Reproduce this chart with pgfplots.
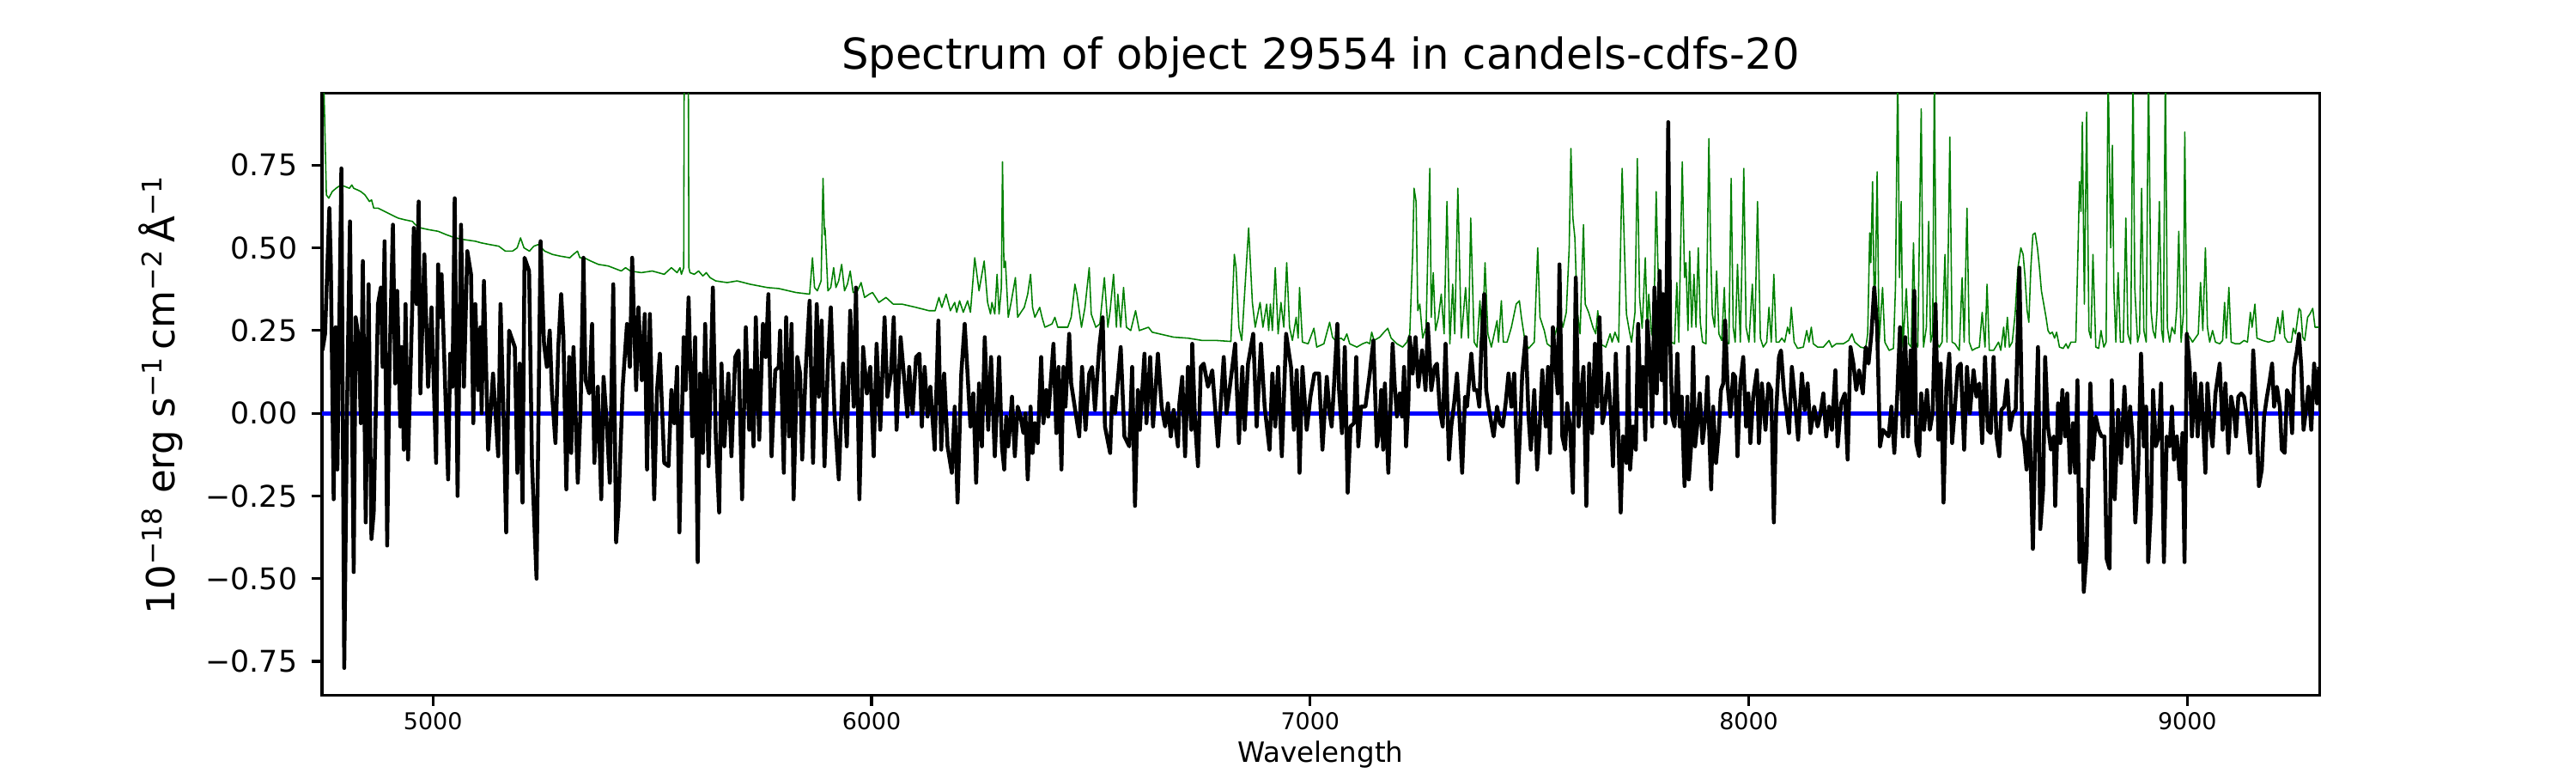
\documentclass[border=0pt]{standalone}
\usepackage{fontspec}
\setmainfont{DejaVu Sans}
\usepackage{pgfplots}
\pgfplotsset{compat=1.18}
\definecolor{mplgreen}{RGB}{0,128,0}
\definecolor{mplblue}{RGB}{0,0,255}
\begin{document}
\begin{tikzpicture}
\useasboundingbox (-108pt,-26pt) rectangle (756pt,233.2pt);
\begin{axis}[
  scale only axis, width=669.9pt, height=201.9pt,
  xmin=4747, xmax=9301, ymin=-0.853, ymax=0.967,
  axis line style={line width=0.9pt},
  tick pos=left, tick align=outside,
  major tick length=3.5pt,
  tick style={black, line width=0.9pt},
  xtick={5000,6000,7000,8000,9000},
  xticklabels={5000,6000,7000,8000,9000},
  ytick={-0.75,-0.5,-0.25,0,0.25,0.5,0.75},
  yticklabels={−0.75,−0.50,−0.25,0.00,0.25,0.50,0.75},
  xticklabel style={font=\fontsize{7.75}{9}\selectfont, anchor=base, inner sep=0pt, yshift=-8.0pt},
  yticklabel style={font=\fontsize{10}{12}\selectfont, anchor=east, inner sep=0pt, xshift=-4.6pt},
  title={Spectrum of object 29554 in candels-cdfs-20},
  title style={font=\fontsize{14.3}{16}\selectfont, at={([yshift=2pt]axis description cs:0.5,1)}, anchor=base, inner sep=0pt},
  xlabel={Wavelength},
  xlabel style={font=\fontsize{9.36}{11}\selectfont, at={([yshift=-22.3pt]axis description cs:0.5,0)}, anchor=base, inner sep=0pt},
  ylabel={10\textsuperscript{−18} erg s\textsuperscript{−1}\,cm\textsuperscript{−2}\,Å\textsuperscript{−1}},
  ylabel style={font=\fontsize{13}{15}\selectfont, at={([xshift=-54pt]axis description cs:0,0.5)}, anchor=center, inner sep=0pt},
]
% error / model spectrum (green)
\addplot[mplgreen, line width=0.45pt, line join=round, no markers] table {
x y
4747 1.3
4752 0.95
4757 0.66
4762.5 0.65
4770.3 0.67
4779 0.68
4789.9 0.69
4800 0.685
4809.5 0.68
4815 0.69
4819.3 0.68
4828 0.675
4835.6 0.67
4845 0.66
4855.2 0.64
4860 0.645
4865 0.62
4874.7 0.62
4890 0.61
4905 0.60
4920.4 0.59
4935 0.585
4953.0 0.58
4960 0.57
4972.6 0.56
4990 0.555
5011.8 0.55
5030 0.54
5050.9 0.53
5070 0.525
5096.6 0.52
5110 0.515
5129.2 0.51
5150 0.505
5165 0.49
5181.4 0.49
5192 0.50
5199.7 0.53
5207.5 0.50
5220 0.49
5230 0.505
5240.1 0.51
5255 0.49
5272.7 0.48
5290 0.475
5311.9 0.47
5320 0.48
5329.5 0.49
5335 0.47
5344.5 0.47
5360 0.46
5377.1 0.45
5400 0.445
5429.4 0.43
5439.1 0.44
5450 0.43
5475.0 0.425
5500 0.43
5527.3 0.42
5543.6 0.44
5556.7 0.425
5563.2 0.44
5566.5 0.42
5571.7 0.44
5573.5 1.4
5581.5 1.4
5583.5 0.44
5586.0 0.425
5595.8 0.42
5605.6 0.43
5615.4 0.415
5623.2 0.425
5631.7 0.41
5644.8 0.40
5670.9 0.395
5693.7 0.40
5723.1 0.39
5762.2 0.38
5788.3 0.377
5827.5 0.365
5858.8 0.36
5865.3 0.47
5870 0.38
5876.4 0.37
5885 0.40
5889.4 0.71
5892.7 0.54
5894.0 0.56
5900.5 0.37
5907 0.38
5913.6 0.44
5918.8 0.38
5925 0.40
5931.9 0.45
5938.4 0.37
5945 0.39
5951.4 0.43
5958.0 0.365
5968 0.37
5976.2 0.395
5984.1 0.35
5995 0.36
6002.3 0.365
6016.7 0.335
6033.0 0.35
6049.3 0.33
6068.9 0.33
6101.5 0.32
6130.9 0.31
6145 0.31
6153.7 0.35
6160.2 0.32
6170.0 0.36
6179.8 0.31
6189.6 0.335
6194.2 0.305
6200.7 0.34
6209.2 0.305
6219.0 0.34
6225.5 0.305
6235.3 0.47
6245.1 0.37
6256.8 0.46
6264.6 0.335
6271.2 0.30
6274.5 0.335
6281.0 0.30
6286.2 0.42
6290.8 0.30
6296.0 0.38
6298.6 0.76
6301.9 0.44
6305.2 0.46
6311.7 0.29
6318.2 0.335
6328.0 0.41
6333.2 0.29
6343.0 0.31
6348.2 0.32
6356.1 0.36
6362.6 0.42
6367.1 0.32
6372.4 0.29
6383.5 0.32
6388.7 0.29
6395.2 0.26
6411.5 0.27
6418.0 0.29
6424.6 0.26
6447.4 0.26
6455.2 0.29
6463.7 0.39
6468.3 0.36
6478.7 0.26
6486.6 0.32
6496.3 0.44
6500.9 0.30
6511.4 0.26
6520.5 0.27
6530.9 0.41
6538.8 0.26
6544.0 0.31
6551.8 0.42
6558.3 0.26
6561.6 0.36
6568.1 0.26
6574.6 0.38
6581.2 0.26
6591.0 0.25
6602.0 0.31
6610.5 0.25
6631.4 0.26
6639.9 0.245
6656.2 0.24
6688.8 0.23
6721.5 0.227
6754.1 0.22
6786.7 0.22
6819.3 0.217
6827.2 0.48
6831.1 0.44
6837.6 0.26
6844.1 0.22
6859.8 0.56
6868.3 0.335
6874.8 0.26
6885.9 0.335
6892.4 0.26
6900.9 0.33
6905.5 0.25
6909.4 0.33
6913.9 0.25
6920.5 0.44
6927.0 0.24
6933.5 0.335
6940 0.26
6946.6 0.455
6953.1 0.26
6959.6 0.22
6968.1 0.29
6972.7 0.227
6975.9 0.38
6982.5 0.215
6995.5 0.21
7008.6 0.257
7015.1 0.20
7031.4 0.21
7044.5 0.275
7051.0 0.23
7057.6 0.22
7070.6 0.227
7077.1 0.22
7083.7 0.24
7090.2 0.21
7106.5 0.20
7119.6 0.21
7129.3 0.215
7135.9 0.21
7140.4 0.245
7145.7 0.22
7158.7 0.23
7168.5 0.245
7177.0 0.257
7184.8 0.227
7197.9 0.21
7210.9 0.20
7220.7 0.215
7227.2 0.24
7233.7 0.48
7237.0 0.68
7241.6 0.64
7245.5 0.31
7250.1 0.33
7256.6 0.227
7264.4 0.26
7272.9 0.74
7276.2 0.29
7280.7 0.425
7285.9 0.25
7292.5 0.29
7299.0 0.36
7305.5 0.24
7312.0 0.64
7318.6 0.21
7325.1 0.39
7329.7 0.24
7336.8 0.68
7344.7 0.227
7354.5 0.38
7361.0 0.227
7366.2 0.59
7374.0 0.215
7380.6 0.20
7387.1 0.34
7392.3 0.215
7398.8 0.455
7405.3 0.24
7413.2 0.20
7426.2 0.28
7429.5 0.215
7436.0 0.34
7440.6 0.215
7449.1 0.215
7458.9 0.26
7469.9 0.33
7477.1 0.34
7481.7 0.29
7490.2 0.215
7498.0 0.196
7511.1 0.215
7518.9 0.50
7524.1 0.29
7533.9 0.25
7540.4 0.21
7550.2 0.20
7560.0 0.245
7569.8 0.29
7576.3 0.26
7584.1 0.305
7590.7 0.50
7594.6 0.80
7599.1 0.59
7603.7 0.53
7608.9 0.31
7615.5 0.24
7623.3 0.57
7627.2 0.33
7635.0 0.305
7644.8 0.26
7651.3 0.24
7655.9 0.31
7661.1 0.21
7674.2 0.20
7684.0 0.24
7688.5 0.215
7695.1 0.245
7703.5 0.215
7711.4 0.74
7716.6 0.50
7721.2 0.30
7727.7 0.25
7732.9 0.215
7740.7 0.305
7746.0 0.77
7751.2 0.35
7757.0 0.257
7764.2 0.47
7768.8 0.25
7772.0 0.36
7778.6 0.24
7783.2 0.227
7789.0 0.67
7792.9 0.45
7798.2 0.30
7804.7 0.23
7814.5 0.215
7823.0 0.215
7830.9 0.21
7836.1 0.395
7840.6 0.215
7848.5 0.76
7853.7 0.41
7857.0 0.455
7861.5 0.25
7865.4 0.49
7870.0 0.26
7875.2 0.42
7879.8 0.26
7885.0 0.50
7889.6 0.275
7894.8 0.215
7902.6 0.21
7909.2 0.83
7913.1 0.50
7917.0 0.30
7922.2 0.26
7926.8 0.43
7932.0 0.24
7938.5 0.22
7944.4 0.38
7948.3 0.215
7954.8 0.21
7960.0 0.71
7964.6 0.26
7969.2 0.215
7974.4 0.45
7980.9 0.215
7988.8 0.74
7994.0 0.26
8000.5 0.215
8008.3 0.39
8013.6 0.215
8020.1 0.64
8026.6 0.227
8033.1 0.20
8041.0 0.215
8046.2 0.32
8051.4 0.215
8057.3 0.42
8062.5 0.215
8069.0 0.215
8075.5 0.227
8082.1 0.215
8088.6 0.26
8093.2 0.24
8097.1 0.32
8103.6 0.215
8111.4 0.196
8124.5 0.20
8132.3 0.25
8137.5 0.215
8142.7 0.26
8147.3 0.21
8157.1 0.20
8170.2 0.20
8183.2 0.22
8189.7 0.20
8199.5 0.21
8215.8 0.21
8227.6 0.22
8235.4 0.24
8241.9 0.215
8255.0 0.20
8266.7 0.196
8271.3 0.24
8275.9 0.545
8278.5 0.455
8282.4 0.70
8286.3 0.32
8288.9 0.40
8292.8 0.73
8297.4 0.215
8305.2 0.38
8310.4 0.215
8320.2 0.19
8330.0 0.196
8334.6 0.38
8339.8 1.05
8343.7 0.41
8347.6 0.64
8351.5 0.20
8359.4 0.377
8364.6 0.21
8370.5 0.20
8375.7 0.515
8380.3 0.215
8385.5 0.20
8393.3 0.92
8398.5 0.20
8405.1 0.26
8410.3 0.58
8414.8 0.215
8419.4 0.24
8423.3 1.05
8427.9 0.215
8434.4 0.20
8440.9 0.215
8447.5 0.48
8452.0 0.215
8458.6 0.835
8463.8 0.215
8470.3 0.21
8480.1 0.19
8486.6 0.41
8491.2 0.215
8497.7 0.62
8502.9 0.215
8509.5 0.19
8517.3 0.196
8525.8 0.20
8532.3 0.305
8538.8 0.20
8543.4 0.39
8548.6 0.19
8558.4 0.19
8569.6 0.215
8574.8 0.19
8581.3 0.26
8584.6 0.20
8589.8 0.29
8594.4 0.20
8600.9 0.215
8607.4 0.30
8613.9 0.44
8620.5 0.50
8625.7 0.48
8630.2 0.41
8634.8 0.31
8638.7 0.275
8643.3 0.44
8647.9 0.54
8653.1 0.545
8658.3 0.50
8662.9 0.44
8667.4 0.37
8672.7 0.33
8677.9 0.29
8682.4 0.25
8687.0 0.24
8692.2 0.245
8697.4 0.227
8702.0 0.245
8708.5 0.20
8717.0 0.196
8723.5 0.21
8728.1 0.196
8734.6 0.215
8745.7 0.215
8750.9 0.50
8754.2 0.70
8757.5 0.61
8760.7 0.88
8765.3 0.33
8770.5 0.91
8775.7 0.25
8780.3 0.227
8784.9 0.48
8791.4 0.20
8797.9 0.196
8803.2 0.25
8809.7 0.20
8814.9 0.215
8819.5 1.05
8825.3 0.50
8829.2 0.81
8832.5 0.38
8837.1 0.215
8842.3 0.425
8847.5 0.215
8854.0 0.215
8859.9 0.59
8864.5 0.24
8871.0 0.21
8876.2 1.05
8880.2 0.38
8886.7 0.215
8891.2 0.24
8895.8 0.68
8901.0 0.25
8906.3 0.215
8911.5 1.05
8917.3 0.31
8921.9 0.25
8927.1 0.227
8931.0 0.31
8936.3 0.64
8941.5 0.25
8945.4 0.215
8950.0 1.05
8954.5 0.26
8959.8 0.215
8965.0 0.26
8971.5 0.24
8976.1 0.32
8980.6 0.55
8985.9 0.215
8991.1 0.30
8994.3 0.85
8998.9 0.24
9005.4 0.23
9012.0 0.215
9019.8 0.23
9025.0 0.24
9030.2 0.395
9035.4 0.25
9041.3 0.50
9045.9 0.26
9051.1 0.215
9057.6 0.25
9064.2 0.215
9073.9 0.21
9080.5 0.22
9085.0 0.335
9088.9 0.227
9094.8 0.38
9100.0 0.215
9109.8 0.21
9119.6 0.21
9129.4 0.22
9137.2 0.215
9143.8 0.305
9147.7 0.26
9154.2 0.33
9158.8 0.227
9171.8 0.22
9184.9 0.215
9197.9 0.22
9206.4 0.29
9211.0 0.24
9217.5 0.31
9222.1 0.23
9228.6 0.215
9237.1 0.215
9241.6 0.257
9246.9 0.24
9254.7 0.317
9258.6 0.31
9263.2 0.23
9267.7 0.22
9274.3 0.29
9279.5 0.30
9286.0 0.317
9291.2 0.26
9300.3 0.26
};
% zero line (blue)
\addplot[mplblue, line width=1.5pt, no markers] table {
x y
4747 0
9301 0
};
% flux (black)
\addplot[black, line width=1.3pt, line join=round, no markers] table {
x y
4748 0.19
4754.0 0.24
4763.8 0.62
4767.1 0.45
4773.6 -0.26
4778.2 0.26
4782.1 -0.17
4791.2 0.74
4797.7 -0.77
4804.3 0.03
4810.8 0.58
4819.3 -0.48
4823.8 0.29
4830.4 0.23
4835.6 -0.03
4840.1 0.46
4846.7 -0.33
4853.2 0.39
4859.7 -0.38
4864.9 -0.30
4874.7 0.33
4881.2 0.38
4885.2 0.14
4889.7 0.52
4895.6 -0.40
4900.8 0.14
4908.7 0.57
4913.9 0.09
4918.4 0.37
4925.6 -0.04
4928.9 0.20
4933.5 -0.11
4937.4 0.33
4943.2 -0.14
4953.0 0.33
4956.3 0.56
4962.8 0.33
4967.4 0.64
4971.3 0.06
4980.4 0.48
4988.9 0.08
4996.7 0.32
5007.2 -0.15
5011.8 0.45
5015.0 0.29
5019.6 0.42
5034.6 -0.20
5039.2 0.18
5044.4 0.08
5049.6 0.65
5056.1 -0.25
5064.0 0.57
5070.5 0.08
5078.3 0.49
5086.8 0.42
5092.0 -0.03
5096.6 0.33
5103.1 0.07
5108.3 0.26
5110.9 0.00
5116.2 0.40
5125.9 -0.11
5137.0 0.12
5148.8 -0.13
5154.0 0.33
5161.8 -0.05
5167.0 -0.36
5173.6 0.25
5186.6 0.20
5192.5 -0.18
5197.7 0.15
5204.2 -0.27
5208.8 0.47
5219.2 0.43
5225.8 -0.15
5236.2 -0.50
5245.3 0.52
5253.2 0.21
5259.7 0.14
5266.2 0.25
5271.4 0.06
5279.3 -0.09
5285.8 0.20
5292.3 0.36
5297.5 0.23
5304.1 -0.23
5310.6 0.17
5315.2 -0.12
5320.4 0.20
5330.2 -0.21
5336.7 0.02
5343.2 0.47
5347.8 0.10
5356.3 0.06
5362.8 0.27
5368.0 -0.15
5375.9 0.08
5383.7 -0.26
5388.9 0.11
5395.4 -0.01
5403.3 -0.21
5411.1 0.39
5417.6 -0.39
5422.8 -0.29
5432.6 0.08
5442.4 0.27
5448.9 0.14
5454.2 0.47
5463.3 0.07
5468.5 0.32
5476.3 0.10
5482.9 0.30
5488.1 -0.17
5494.6 0.30
5504.4 -0.26
5510.9 0.07
5517.4 0.18
5527.3 -0.15
5537.1 -0.16
5543.6 0.07
5550.1 -0.03
5556.7 0.14
5561.9 -0.36
5571.7 0.23
5576.2 0.07
5582.8 0.35
5591.2 -0.07
5597.8 0.23
5603.6 -0.45
5608.9 0.12
5615.4 -0.12
5620.6 0.27
5628.4 -0.16
5638.2 0.38
5644.8 -0.07
5652.6 -0.30
5657.8 0.15
5664.3 -0.10
5673.5 0.12
5680.6 -0.13
5689.1 0.17
5696.9 0.19
5704.8 -0.26
5713.3 0.26
5721.1 -0.05
5725.0 0.13
5730.9 -0.10
5736.1 0.29
5743.9 -0.08
5752.4 0.27
5758.9 0.17
5764.8 0.36
5772.0 -0.13
5780.5 0.13
5788.3 0.14
5791.6 0.25
5800.0 -0.18
5805.3 0.29
5811.8 -0.07
5817.7 0.27
5822.2 -0.26
5830.7 0.17
5837.2 0.12
5841.8 -0.14
5850.3 0.14
5858.8 0.34
5866.6 -0.15
5875.1 0.33
5879.7 0.05
5886.2 0.28
5892.7 -0.16
5900.5 0.15
5907.1 0.32
5915.5 0.00
5925.3 -0.20
5935.1 0.15
5943.6 -0.10
5951.4 0.31
5959.3 0.02
5964.5 0.38
5972.3 -0.26
5980.8 0.20
5989.3 0.06
5997.1 0.14
6004.9 -0.13
6011.5 0.21
6019.9 -0.05
6029.7 0.29
6036.2 0.05
6044.1 0.12
6050.6 0.29
6057.1 -0.05
6066.3 0.23
6075.4 0.09
6081.9 -0.01
6085.8 0.14
6093.7 0.00
6101.5 0.17
6109.3 0.18
6114.6 -0.04
6121.1 0.14
6127.6 -0.01
6134.1 0.08
6143.9 -0.11
6152.4 0.28
6158.9 -0.11
6165.5 0.12
6173.3 -0.10
6183.1 -0.18
6189.6 0.02
6196.1 -0.27
6204.6 0.12
6212.4 0.27
6218.9 0.12
6225.5 -0.04
6232.0 0.06
6238.5 -0.21
6245.1 0.09
6251.6 -0.10
6258.1 0.23
6266.0 -0.05
6272.5 0.17
6281.0 -0.13
6290.8 0.17
6297.3 -0.10
6302.5 -0.17
6307.1 -0.01
6311.7 -0.10
6315.6 -0.04
6320.2 0.05
6326.7 -0.13
6333.2 0.02
6339.7 -0.01
6346.3 -0.06
6350.8 0.00
6356.1 -0.20
6362.6 0.02
6367.1 -0.12
6372.4 -0.03
6378.9 -0.09
6386.7 0.17
6391.9 -0.03
6398.5 0.07
6403.0 -0.01
6414.8 0.21
6421.3 -0.06
6426.5 0.14
6433.0 -0.17
6437.6 0.14
6442.2 0.02
6450.7 0.24
6455.2 0.09
6473.5 -0.07
6480.0 0.14
6487.9 -0.05
6496.3 0.12
6502.9 0.14
6509.4 0.01
6519.2 0.20
6527.0 0.29
6532.2 -0.04
6544.0 -0.12
6548.5 0.05
6555.1 0.00
6568.1 0.20
6576.6 -0.07
6587.7 -0.10
6594.2 0.14
6600.7 -0.28
6607.3 0.07
6611.8 -0.05
6622.3 0.18
6626.8 -0.03
6635.3 0.17
6641.8 -0.04
6652.9 0.18
6661.4 0.02
6669.3 -0.04
6675.8 0.03
6682.3 -0.07
6688.8 0.01
6698.6 -0.10
6701.9 0.03
6708.4 0.11
6714.9 -0.13
6721.5 0.14
6729.3 -0.05
6731.2 0.21
6737.8 -0.03
6744.3 -0.16
6750.8 0.14
6757.3 0.15
6767.1 0.08
6776.9 0.13
6790.0 -0.10
6803.0 0.17
6809.5 0.00
6829.1 0.21
6837.6 -0.09
6845.4 0.14
6850.6 -0.05
6858.5 0.15
6870.2 0.24
6878.1 -0.04
6887.8 0.21
6896.3 0.02
6907.4 -0.11
6913.9 0.12
6920.5 -0.04
6927.0 0.14
6935.5 -0.13
6945.3 0.24
6956.4 0.14
6962.9 -0.05
6969.4 0.13
6975.9 -0.18
6982.5 0.14
6992.2 -0.05
7000.7 0.05
7009.9 0.12
7020.3 0.12
7028.1 -0.11
7038.0 0.11
7044.4 0.00
7049.1 -0.04
7054.3 0.08
7062.1 0.27
7066.0 0.07
7072.6 -0.06
7079.1 0.20
7085.6 -0.24
7092.1 -0.04
7100.0 -0.03
7105.2 0.17
7109.8 -0.10
7116.3 0.02
7126.1 0.02
7135.9 0.12
7144.3 0.22
7152.2 -0.10
7157.4 -0.06
7162.0 0.07
7166.5 -0.11
7170.4 0.09
7178.3 -0.18
7188.1 0.21
7192.6 0.09
7197.9 -0.01
7204.4 0.06
7209.6 -0.01
7214.2 0.14
7218.7 -0.10
7224.0 0.03
7227.2 0.23
7233.7 0.12
7240.3 0.23
7246.8 0.08
7255.3 0.19
7263.1 0.07
7268.3 0.27
7276.2 0.07
7284.0 0.14
7289.2 0.15
7295.7 0.01
7302.3 -0.04
7308.8 0.21
7316.6 -0.14
7321.8 -0.04
7328.4 0.03
7334.9 0.12
7340.1 0.00
7346.6 -0.18
7353.2 0.05
7357.7 0.02
7367.5 0.18
7374.0 0.07
7380.6 0.07
7385.8 0.02
7390.3 0.20
7396.9 0.36
7401.4 0.07
7406.7 0.02
7413.2 -0.03
7418.4 -0.07
7426.2 0.02
7432.8 -0.03
7439.3 -0.04
7445.8 0.03
7452.3 0.12
7458.9 0.02
7465.4 0.12
7473.2 -0.21
7478.4 -0.06
7483.6 0.12
7491.5 0.23
7498.0 -0.01
7503.2 -0.11
7511.1 0.07
7517.6 -0.17
7522.8 -0.06
7529.3 0.13
7537.2 -0.04
7542.4 0.14
7547.0 -0.12
7553.5 0.26
7560.0 0.14
7564.6 0.06
7568.5 0.45
7575.0 -0.07
7581.5 -0.11
7586.1 0.03
7592.6 -0.04
7599.1 -0.24
7605.7 0.41
7612.2 -0.04
7618.7 0.07
7623.3 0.14
7629.8 -0.28
7636.3 0.15
7642.9 -0.06
7649.4 0.21
7654.6 0.02
7659.8 0.29
7666.4 -0.03
7670.9 0.00
7679.4 0.12
7685.9 -0.01
7690.5 -0.16
7697.0 0.18
7703.5 -0.10
7708.1 -0.30
7713.3 -0.07
7721.2 -0.15
7725.1 0.20
7729.6 -0.17
7736.2 -0.04
7742.7 -0.11
7747.9 0.27
7753.8 0.02
7759.0 0.14
7764.2 -0.08
7768.8 0.28
7775.3 0.15
7779.9 -0.04
7785.1 0.38
7790.3 0.06
7796.9 0.43
7801.5 0.10
7805.0 0.36
7810.0 -0.03
7816.5 0.88
7821.1 0.21
7825.6 -0.01
7830.9 -0.04
7837.4 0.18
7842.6 -0.04
7847.2 0.05
7853.7 -0.22
7860.2 0.05
7863.5 -0.20
7868.7 -0.10
7873.3 0.20
7877.8 -0.10
7883.1 -0.03
7888.3 0.06
7894.8 -0.09
7901.3 -0.01
7905.9 0.11
7914.4 -0.23
7918.9 0.02
7925.5 -0.15
7932.0 -0.05
7936.6 0.07
7941.8 0.09
7946.3 0.28
7951.6 0.09
7958.1 -0.01
7964.6 0.12
7969.2 0.11
7974.4 -0.13
7980.9 0.09
7987.5 0.17
7994.0 -0.04
7999.2 0.06
8003.8 -0.09
8010.3 0.05
8018.8 0.13
8023.3 -0.09
8029.9 0.09
8038.3 -0.05
8044.9 0.09
8051.4 0.07
8057.3 -0.33
8062.5 0.00
8069.0 0.17
8073.6 0.19
8080.1 0.07
8086.6 0.00
8091.9 -0.06
8098.4 0.14
8104.9 0.05
8112.7 -0.08
8121.2 0.12
8127.7 0.01
8134.3 0.09
8140.8 -0.06
8149.3 0.02
8157.1 -0.04
8162.3 -0.01
8170.2 0.06
8176.7 -0.07
8183.2 0.02
8189.7 -0.05
8197.6 0.13
8202.8 -0.10
8210.6 0.03
8219.1 0.06
8225.6 -0.14
8232.1 0.20
8238.7 0.15
8245.2 0.07
8251.7 0.13
8260.2 0.06
8266.7 0.20
8273.2 0.15
8279.8 0.24
8286.3 0.38
8292.8 0.26
8299.4 -0.10
8305.9 -0.05
8312.4 -0.06
8318.9 -0.07
8325.4 0.02
8332.0 -0.12
8338.5 0.05
8345.0 0.26
8351.5 -0.07
8356.8 0.23
8363.3 -0.07
8369.2 0.19
8373.7 0.00
8377.6 0.37
8382.2 -0.09
8388.7 -0.13
8393.3 0.06
8399.8 -0.05
8406.4 0.07
8412.9 -0.05
8419.4 0.00
8425.9 0.33
8432.5 -0.08
8437.7 0.15
8444.2 -0.27
8450.7 0.08
8457.3 0.18
8463.8 -0.09
8470.3 0.02
8476.8 0.14
8483.4 0.15
8491.2 -0.11
8497.7 0.14
8504.2 0.00
8512.7 0.13
8519.2 0.05
8525.8 0.09
8532.3 -0.09
8538.8 0.17
8545.3 -0.05
8551.9 -0.06
8558.4 0.17
8564.9 -0.07
8571.4 -0.13
8576.1 0.01
8582.6 0.02
8589.1 0.10
8595.7 -0.05
8602.2 0.00
8608.7 0.01
8617.2 0.44
8623.7 -0.06
8628.3 -0.09
8633.5 -0.17
8640.0 0.00
8647.9 -0.41
8653.1 -0.10
8659.6 0.20
8664.8 -0.35
8671.3 -0.23
8675.9 0.17
8682.4 -0.04
8689.0 -0.11
8695.5 -0.07
8698.8 -0.28
8705.3 0.03
8710.5 -0.09
8715.1 0.07
8721.6 -0.07
8726.2 0.06
8732.7 -0.18
8739.2 -0.03
8744.4 -0.18
8749.6 0.10
8754.2 -0.45
8758.8 -0.23
8764.0 -0.54
8770.5 -0.42
8779.0 0.09
8784.9 -0.14
8791.4 -0.01
8797.9 -0.05
8804.5 -0.07
8811.0 -0.07
8816.2 -0.44
8822.7 -0.47
8827.9 0.10
8834.5 -0.26
8842.3 0.01
8848.8 -0.15
8856.7 0.08
8863.2 -0.10
8869.7 0.02
8874.9 -0.07
8881.5 -0.33
8888.0 -0.17
8894.5 0.18
8901.0 -0.10
8906.3 0.02
8910.8 -0.45
8917.3 -0.28
8921.9 0.07
8928.4 -0.10
8935.0 -0.07
8940.2 0.09
8946.7 -0.45
8953.2 -0.07
8959.8 -0.10
8965.0 0.02
8969.5 -0.14
8976.1 -0.07
8982.6 -0.20
8989.1 -0.06
8993.7 -0.45
8998.9 0.24
9005.4 0.14
9010.6 -0.07
9017.2 0.12
9023.7 -0.07
9031.5 0.09
9041.3 -0.18
9045.9 0.09
9052.4 -0.04
9057.6 -0.10
9064.2 0.06
9073.9 0.15
9080.5 -0.05
9087.0 0.09
9093.5 -0.12
9100.0 0.05
9106.6 0.00
9111.1 -0.07
9116.4 0.05
9122.9 0.06
9129.4 0.05
9135.9 -0.01
9143.8 -0.12
9150.3 0.19
9156.8 0.02
9163.3 -0.22
9169.9 -0.17
9175.1 -0.01
9181.6 0.05
9186.8 0.09
9193.4 0.15
9197.9 0.02
9204.4 0.08
9211.0 0.02
9215.5 -0.11
9222.1 -0.12
9227.3 0.07
9233.8 0.05
9239.0 -0.06
9243.6 0.14
9250.1 0.19
9254.7 0.24
9259.9 0.14
9265.1 -0.05
9271.6 0.02
9276.2 0.08
9282.7 -0.05
9289.2 0.15
9295.8 0.03
9300.3 0.14
};
\end{axis}
\end{tikzpicture}
\end{document}
